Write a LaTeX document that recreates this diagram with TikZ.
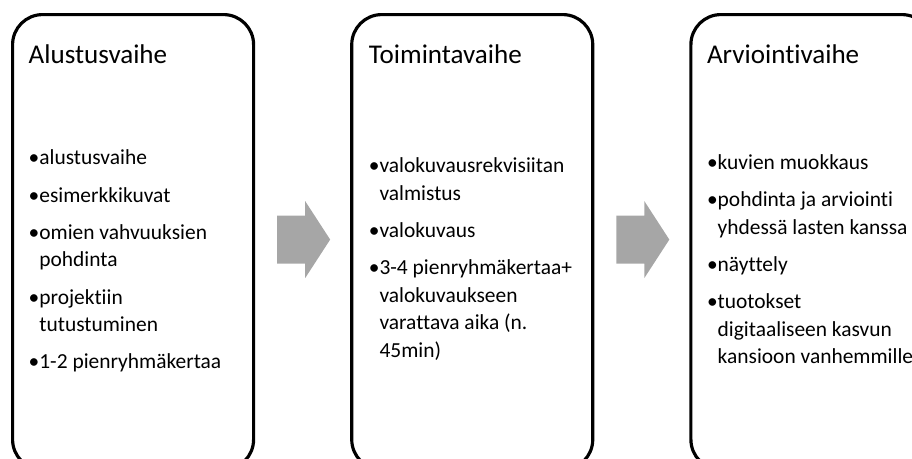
\documentclass[tikz,border=0pt]{standalone}
\usepackage{fontspec}
\setmainfont{Carlito}[Ligatures={NoCommon}]
\usetikzlibrary{positioning,calc}

\newcommand{\pbul}{\textbullet}
\newcommand{\pind}{\hphantom{\textbullet}}

\tikzset{
  phase/.style={draw=black, line width=0.9pt, rounded corners=0.3cm,
    minimum width=2.41cm, minimum height=4.55cm, inner sep=0pt},
  phasetitle/.style={anchor=base west, inner sep=0pt, font=\fontsize{7.7}{9}\selectfont},
  phaselist/.style={anchor=west, inner sep=0pt, align=left, font=\fontsize{6.1}{7.8}\selectfont},
  phasearrow/.style={fill=black!35, draw=none}
}

\begin{document}
\begin{tikzpicture}
	\path[use as bounding box, clip] (0,0) rectangle (9.12,-4.59);
	% the three phases
	\node[phase, anchor=north west] (box1) at (0.11,-0.13) {};
	\node[phase, right=0.95cm of box1] (box2) {};
	\node[phase, right=0.95cm of box2] (box3) {};
	% titles
	\node[phasetitle] (title1) at ($(box1.north west)+(0.17,-0.50)$) {Alustusvaihe};
	\node[phasetitle] (title2) at ($(box2.north west)+(0.18,-0.50)$) {Toimintavaihe};
	\node[phasetitle] (title3) at ($(box3.north west)+(0.17,-0.50)$) {Arviointivaihe};
	% contents
	\node[phaselist] (list1) at ($(box1.west)+(0.17,-0.19)$) {\pbul alustusvaihe\\[2.8pt]
		\pbul esimerkkikuvat\\[2.8pt]
		\pbul omien vahvuuksien\\ \pind pohdinta\\[2.8pt]
		\pbul projektiin\\ \pind tutustuminen\\[2.8pt]
		\pbul 1-2 pienryhmäkertaa};
	\node[phaselist] (list2) at ($(box2.west)+(0.18,-0.17)$) {\pbul valokuvausrekvisiitan\\ \pind valmistus\\[2.8pt]
		\pbul valokuvaus\\[2.8pt]
		\pbul 3-4 pienryhmäkertaa+\\ \pind valokuvaukseen\\ \pind varattava aika (n.\\ \pind 45min)};
	\node[phaselist] (list3) at ($(box3.west)+(0.17,-0.17)$) {\pbul kuvien muokkaus\\[2.8pt]
		\pbul pohdinta ja arviointi\\ \pind yhdessä lasten kanssa\\[2.8pt]
		\pbul näyttely\\[2.8pt]
		\pbul tuotokset\\ \pind digitaaliseen kasvun\\ \pind kansioon vanhemmille};
	% arrows between the phases
	\foreach \b in {box1,box2}
		\fill[phasearrow, shift={(\b.east)}] (0.22,0.265) -- (0.50,0.265) -- (0.50,0.41) -- (0.75,0.025)
			-- (0.50,-0.36) -- (0.50,-0.215) -- (0.22,-0.215) -- cycle;
\end{tikzpicture}
\end{document}
